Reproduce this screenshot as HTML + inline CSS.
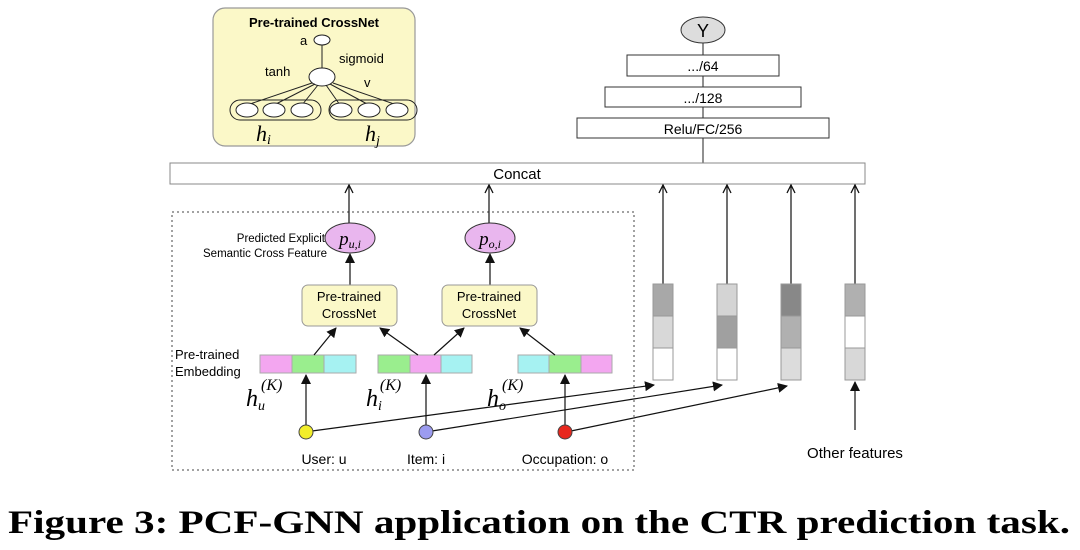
<!DOCTYPE html>
<html><head><meta charset="utf-8"><style>html,body{margin:0;padding:0;background:#fff;width:1080px;height:550px;overflow:hidden}</style></head>
<body>
<svg width="1080" height="550" viewBox="0 0 1080 550" xmlns="http://www.w3.org/2000/svg" font-family="Liberation Sans, sans-serif">
<defs>
<marker id="ah" markerWidth="10" markerHeight="10" refX="9" refY="5" orient="auto" markerUnits="userSpaceOnUse"><path d="M0,0 L10,5 L0,10 z" fill="#111"/></marker>
<marker id="oh" markerWidth="10" markerHeight="10" refX="9" refY="5" orient="auto" markerUnits="userSpaceOnUse"><path d="M1,1 L9,5 L1,9" fill="none" stroke="#111" stroke-width="1.3"/></marker>
</defs>
<rect x="213" y="8" width="202" height="138" rx="12" fill="#fbf8c8" stroke="#999" stroke-width="1.2"/>
<text x="314" y="27" text-anchor="middle" font-size="13" font-weight="bold">Pre-trained CrossNet</text>
<text x="300" y="45" font-size="13">a</text>
<ellipse cx="322" cy="40" rx="8" ry="5" fill="#fff" stroke="#222"/>
<line x1="322" y1="45" x2="322" y2="68" stroke="#222"/>
<text x="265" y="76" font-size="13">tanh</text>
<text x="339" y="63" font-size="13">sigmoid</text>
<text x="364" y="87" font-size="13">v</text>
<ellipse cx="322" cy="77" rx="13" ry="9" fill="#fff" stroke="#222"/>
<g stroke="#222" fill="none">
<line x1="312" y1="83" x2="247" y2="105"/><line x1="315" y1="84" x2="274" y2="105"/><line x1="318" y1="85" x2="302" y2="105"/>
<line x1="326" y1="85" x2="340" y2="105"/><line x1="330" y1="84" x2="369" y2="105"/><line x1="333" y1="83" x2="397" y2="105"/>
<rect x="230" y="100" width="91" height="20" rx="10"/><rect x="329" y="100" width="88" height="20" rx="10"/>
<ellipse cx="247" cy="110" rx="11" ry="7" fill="#fff"/><ellipse cx="274" cy="110" rx="11" ry="7" fill="#fff"/><ellipse cx="302" cy="110" rx="11" ry="7" fill="#fff"/>
<ellipse cx="341" cy="110" rx="11" ry="7" fill="#fff"/><ellipse cx="369" cy="110" rx="11" ry="7" fill="#fff"/><ellipse cx="397" cy="110" rx="11" ry="7" fill="#fff"/>
</g>
<text x="256" y="141" font-size="22" font-style="italic" font-family="Liberation Serif, serif">h<tspan font-size="14" dy="3">i</tspan></text>
<text x="365" y="141" font-size="22" font-style="italic" font-family="Liberation Serif, serif">h<tspan font-size="14" dy="4">j</tspan></text>
<line x1="703" y1="43" x2="703" y2="163" stroke="#222"/>
<ellipse cx="703" cy="30" rx="22" ry="13" fill="#ddd" stroke="#333"/>
<text x="703" y="37" text-anchor="middle" font-size="18">Y</text>
<rect x="627" y="55" width="152" height="21" fill="#fff" stroke="#333"/><text x="703" y="71" text-anchor="middle" font-size="14">.../64</text>
<rect x="605" y="87" width="196" height="20" fill="#fff" stroke="#333"/><text x="703" y="103" text-anchor="middle" font-size="14">.../128</text>
<rect x="577" y="118" width="252" height="20" fill="#fff" stroke="#333"/><text x="703" y="134" text-anchor="middle" font-size="14">Relu/FC/256</text>
<rect x="170" y="163" width="695" height="21" fill="#fff" stroke="#888"/>
<text x="517" y="179" text-anchor="middle" font-size="15">Concat</text>
<rect x="172" y="212" width="462" height="258" fill="none" stroke="#444" stroke-dasharray="2,3"/>
<g stroke="#111" stroke-width="1.2">
<line x1="349" y1="223" x2="349" y2="185" marker-end="url(#oh)"/>
<line x1="489" y1="223" x2="489" y2="185" marker-end="url(#oh)"/>
<line x1="663" y1="284" x2="663" y2="185" marker-end="url(#oh)"/>
<line x1="727" y1="284" x2="727" y2="185" marker-end="url(#oh)"/>
<line x1="791" y1="284" x2="791" y2="185" marker-end="url(#oh)"/>
<line x1="855" y1="284" x2="855" y2="185" marker-end="url(#oh)"/>
</g>
<text x="325" y="242" text-anchor="end" font-size="11.5">Predicted Explicit</text>
<text x="327" y="257" text-anchor="end" font-size="11.5">Semantic Cross Feature</text>
<ellipse cx="350" cy="238" rx="25" ry="15" fill="#e9b6ee" stroke="#333"/>
<text x="350" y="245" text-anchor="middle" font-size="19" font-style="italic" font-family="Liberation Serif, serif">p<tspan font-size="12" dy="3">u,i</tspan></text>
<ellipse cx="490" cy="238" rx="25" ry="15" fill="#e9b6ee" stroke="#333"/>
<text x="490" y="245" text-anchor="middle" font-size="19" font-style="italic" font-family="Liberation Serif, serif">p<tspan font-size="12" dy="3">o,i</tspan></text>
<g stroke="#111" stroke-width="1.2">
<line x1="350" y1="285" x2="350" y2="254" marker-end="url(#ah)"/>
<line x1="490" y1="285" x2="490" y2="254" marker-end="url(#ah)"/>
</g>
<rect x="302" y="285" width="95" height="41" rx="6" fill="#fbf8c8" stroke="#999"/>
<text x="349" y="301" text-anchor="middle" font-size="13">Pre-trained</text><text x="349" y="318" text-anchor="middle" font-size="13">CrossNet</text>
<rect x="442" y="285" width="95" height="41" rx="6" fill="#fbf8c8" stroke="#999"/>
<text x="489" y="301" text-anchor="middle" font-size="13">Pre-trained</text><text x="489" y="318" text-anchor="middle" font-size="13">CrossNet</text>
<text x="175" y="359" font-size="13">Pre-trained</text>
<text x="175" y="376" font-size="13">Embedding</text>
<g stroke="#aaa">
<rect x="260" y="355" width="32" height="18" fill="#f3a6f0"/><rect x="292" y="355" width="32" height="18" fill="#9aee8e"/><rect x="324" y="355" width="32" height="18" fill="#a6f2f2"/>
<rect x="378" y="355" width="32" height="18" fill="#9aee8e"/><rect x="410" y="355" width="31" height="18" fill="#f3a6f0"/><rect x="441" y="355" width="31" height="18" fill="#a6f2f2"/>
<rect x="518" y="355" width="31" height="18" fill="#a6f2f2"/><rect x="549" y="355" width="32" height="18" fill="#9aee8e"/><rect x="581" y="355" width="31" height="18" fill="#f3a6f0"/>
</g>
<g stroke="#111" stroke-width="1.2">
<line x1="314" y1="355" x2="336" y2="328" marker-end="url(#ah)"/>
<line x1="418" y1="355" x2="380" y2="328" marker-end="url(#ah)"/>
<line x1="434" y1="355" x2="464" y2="328" marker-end="url(#ah)"/>
<line x1="555" y1="355" x2="520" y2="328" marker-end="url(#ah)"/>
<line x1="306" y1="425" x2="306" y2="375" marker-end="url(#ah)"/>
<line x1="426" y1="425" x2="426" y2="375" marker-end="url(#ah)"/>
<line x1="565" y1="425" x2="565" y2="375" marker-end="url(#ah)"/>
<line x1="312" y1="431" x2="654" y2="385" marker-end="url(#ah)"/>
<line x1="432" y1="431" x2="722" y2="385" marker-end="url(#ah)"/>
<line x1="571" y1="431" x2="787" y2="386" marker-end="url(#ah)"/>
<line x1="855" y1="430" x2="855" y2="382" marker-end="url(#ah)"/>
</g>
<g font-family="Liberation Serif, serif" font-style="italic">
<text x="246" y="406" font-size="24">h<tspan font-size="14" dy="4">u</tspan><tspan font-size="16" dy="-20" dx="-4">(K)</tspan></text>
<text x="366" y="406" font-size="24">h<tspan font-size="14" dy="4">i</tspan><tspan font-size="16" dy="-20" dx="-2">(K)</tspan></text>
<text x="487" y="406" font-size="24">h<tspan font-size="14" dy="4">o</tspan><tspan font-size="16" dy="-20" dx="-4">(K)</tspan></text>
</g>
<circle cx="306" cy="432" r="7" fill="#f2ee2a" stroke="#444"/>
<circle cx="426" cy="432" r="7" fill="#9c9cf0" stroke="#444"/>
<circle cx="565" cy="432" r="7" fill="#e8281e" stroke="#444"/>
<text x="324" y="464" text-anchor="middle" font-size="14">User: u</text>
<text x="426" y="464" text-anchor="middle" font-size="14">Item: i</text>
<text x="565" y="464" text-anchor="middle" font-size="14">Occupation: o</text>
<g stroke="#999">
<rect x="653" y="284" width="20" height="32" fill="#a8a8a8"/><rect x="653" y="316" width="20" height="32" fill="#d8d8d8"/><rect x="653" y="348" width="20" height="32" fill="#fff"/>
<rect x="717" y="284" width="20" height="32" fill="#d4d4d4"/><rect x="717" y="316" width="20" height="32" fill="#a0a0a0"/><rect x="717" y="348" width="20" height="32" fill="#fff"/>
<rect x="781" y="284" width="20" height="32" fill="#888"/><rect x="781" y="316" width="20" height="32" fill="#b0b0b0"/><rect x="781" y="348" width="20" height="32" fill="#dcdcdc"/>
<rect x="845" y="284" width="20" height="32" fill="#b0b0b0"/><rect x="845" y="316" width="20" height="32" fill="#fff"/><rect x="845" y="348" width="20" height="32" fill="#d8d8d8"/>
</g>
<text x="855" y="458" text-anchor="middle" font-size="15">Other features</text>
<text x="8" y="533" font-size="33" font-weight="bold" font-family="Liberation Serif, serif" textLength="1062" lengthAdjust="spacingAndGlyphs">Figure 3: PCF-GNN application on the CTR prediction task.</text>
</svg>
</body></html>
